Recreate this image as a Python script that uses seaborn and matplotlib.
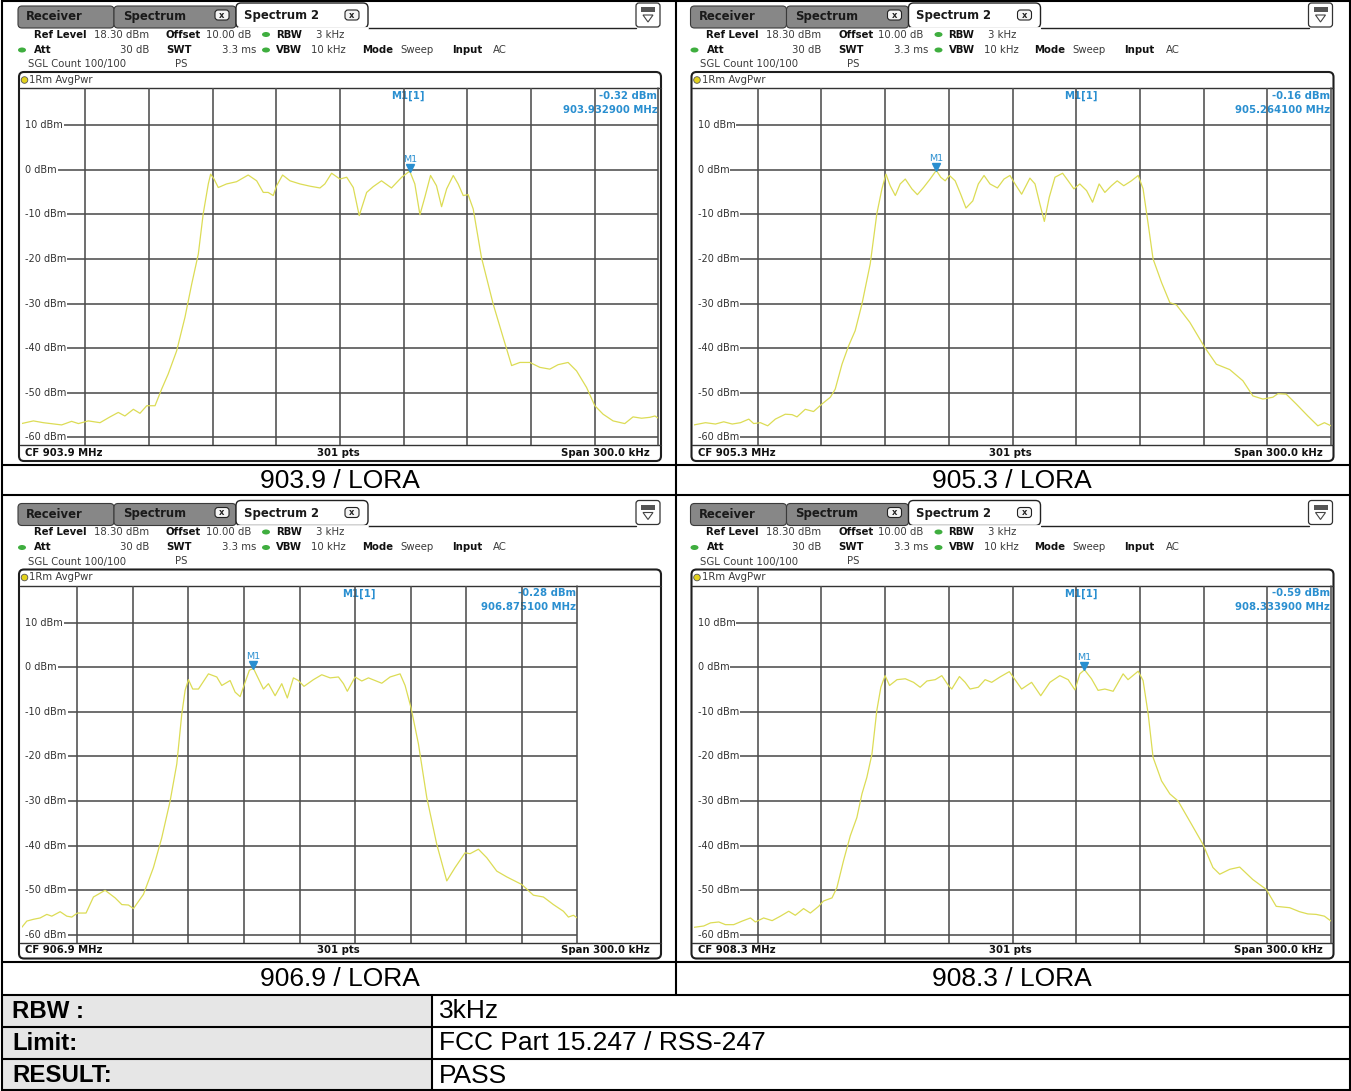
import numpy as np
import pandas as pd
import matplotlib
matplotlib.use("Agg")
import matplotlib.pyplot as plt
import seaborn as sns
from matplotlib.patches import FancyBboxPatch, Rectangle, Circle, Ellipse, Polygon

sns.set_theme(style="white")
plt.rcParams['font.family'] = ['DejaVu Sans']

W, H = 1351, 1091

# ---------------- data ----------------
center_freqs = ["903.9", "905.3", "906.9", "908.3"]
panel_labels = ["903.9 / LORA", "905.3 / LORA", "906.9 / LORA", "908.3 / LORA"]
marker_freq_txt = ["903.932900 MHz", "905.264100 MHz", "906.875100 MHz", "908.333900 MHz"]
marker_level = [-0.32, -0.16, -0.28, -0.59]
marker_offset_khz = [32.9, -35.9, -24.9, 33.9]
ref_level = 18.30
level_ticks = [10, 0, -10, -20, -30, -40, -50, -60]
level_tick_labels = ["10 dBm", "0 dBm", "-10 dBm", "-20 dBm", "-30 dBm", "-40 dBm", "-50 dBm", "-60 dBm"]
freq_grid_khz = [-120, -90, -60, -30, 0, 30, 60, 90, 120]

trace1_khz = [-150, -144.4, -139.7, -131.1, -126.4, -123.2, -118.5, -113.0, -108.3, -104.4, -101.3, -97.3,
              -94.2, -91.0, -87.1, -84.0, -80.9, -76.9, -73.0, -69.8, -66.7, -64.4, -62.0, -60.9, -59.3,
              -57.3, -53.4, -48.7, -43.2, -39.2, -36.1, -33.8, -31.4, -29.8, -27.0, -23.5, -18.8, -14.1,
              -9.4, -7.1, -3.9, 0.0, 3.2, 6.3, 9.1, 12.6, 15.7, 19.6, 24.3, 29.1, 32.9, 35.3, 37.7, 40.0,
              42.7, 45.5, 47.9, 50.3, 53.4, 55.7, 58.1, 60.4, 62.8, 66.7, 72.2, 76.9, 80.9, 84.8, 89.5,
              94.2, 98.9, 102.8, 107.5, 111.5, 116.2, 120.1, 124.0, 128.7, 134.2, 138.1, 142.1, 146.0,
              148.4, 150]
trace1_dbm = [-56.9, -56.3, -56.7, -57.2, -56.4, -56.9, -56.3, -56.7, -55.4, -54.4, -55.2, -53.7,
              -54.6, -52.9, -52.9, -49.2, -45.8, -40.6, -33.1, -25.6, -18.9, -9.9, -3.2, -1.0, -2.1,
              -4.0, -3.2, -2.7, -1.2, -2.5, -5.1, -5.1, -5.8, -3.6, -1.2, -2.5, -3.2, -3.7,
              -4.1, -3.2, -0.8, -2.1, -1.7, -4.0, -10.3, -5.1, -3.8, -2.5, -4.1, -1.7, -0.32, -3.2, -10.1, -6.2,
              -1.3, -3.6, -8.3, -4.3, -1.3, -3.2, -5.8, -5.6, -8.8, -19.7, -30.1, -37.6, -43.9, -43.2, -43.2,
              -44.3, -44.7, -43.7, -43.2, -45.1, -48.8, -52.9, -54.8, -56.3, -56.9, -55.4, -55.7, -55.5,
              -55.2, -55.7]

trace2_khz = [-150, -144.6, -139.9, -136.0, -132.0, -128.1, -124.2, -121.9, -118.7, -115.3, -111.7, -107.0,
              -103.8, -101.5, -97.6, -93.7, -89.7, -85.8, -83.5, -80.3, -77.2, -74.1, -70.9, -67.0, -63.9,
              -61.5, -59.6, -57.6, -55.2, -52.9, -50.5, -47.4, -44.8, -41.9, -38.8, -35.9, -33.8, -31.7,
              -29.7, -27.0, -24.4, -21.9, -18.7, -16.1, -13.4, -10.6, -7.1, -4.0, -1.2, 1.2, 4.3, 8.2, 10.6,
              12.9, 15.0, 17.3, 20.0, 23.6, 26.2, 28.9, 31.7, 34.9, 37.7, 40.8, 43.5, 46.6, 49.3, 52.4, 56.0,
              59.2, 61.5, 63.9, 66.2, 70.2, 74.1, 77.2, 83.5, 90.5, 96.0, 102.3, 108.5, 113.2, 117.9, 122.6,
              125.0, 128.9, 133.6, 139.1, 143.8, 146.9, 150]
trace2_dbm = [-57.2, -56.7, -57.0, -56.5, -57.0, -56.7, -55.9, -56.9, -56.7, -57.4, -55.9, -54.8,
              -54.9, -55.4, -53.7, -54.2, -52.5, -51.0, -49.2, -43.6, -39.5, -36.1, -30.1, -21.1, -9.9,
              -4.3, -1.0, -3.6, -5.8, -3.2, -2.1, -4.3, -5.6, -4.0, -2.1, -0.16, -1.7, -2.5,
              -1.3, -2.5, -5.5, -8.6, -7.0, -3.2, -1.3, -3.2, -4.1, -2.1, -1.3, -3.2, -5.5, -1.9, -3.2,
              -7.7, -11.6, -6.2, -1.7, -0.8, -2.5, -4.3, -3.2, -4.7, -7.3, -3.2, -5.1, -3.6, -2.5, -3.6, -2.5,
              -1.3, -4.3, -12.2, -20.0, -25.3, -29.8, -30.3, -34.2, -39.8, -43.6, -44.8, -47.3, -50.7, -51.4, -51.0,
              -50.2, -50.3, -52.5, -55.2, -57.4, -56.7, -57.4]

trace3_khz = [-150, -147.3, -143.7, -140.1, -136.5, -133.8, -129.3, -125.7, -123.0, -120.0, -115.3, -111.3,
              -105.0, -99.6, -96.0, -92.4, -89.7, -84.3, -78.9, -74.4, -69.9, -66.3, -63.6, -61.8, -60.0,
              -57.7, -54.6, -49.2, -44.7, -42.0, -37.5, -34.8, -32.1, -30.0, -27.1, -24.9, -22.2, -19.5,
              -16.8, -13.2, -9.6, -6.6, -3.3, -0.6, 2.4, 7.5, 12.0, 16.5, 21.0, 23.7, 25.8, 30.0, 33.6,
              37.2, 44.4, 48.9, 54.3, 57.0, 60.2, 64.2, 68.7, 74.1, 79.5, 84.0, 89.4, 92.1, 96.6, 101.1,
              106.5, 111.9, 120.0, 126.3, 131.7, 137.1, 142.5, 145.2, 147.9, 150]
trace3_dbm = [-58.3, -56.9, -56.5, -56.2, -55.4, -55.8, -54.8, -55.8, -56.0, -55.1, -55.1, -51.5,
              -50.0, -51.7, -53.2, -53.3, -54.1, -50.9, -44.9, -38.2, -30.0, -21.7, -10.5, -5.2, -2.8,
              -4.9, -4.9, -1.5, -2.2, -4.1, -3.0, -5.6, -6.6, -4.1, -0.7, -0.28, -2.6, -4.9,
              -3.7, -6.4, -3.7, -6.9, -2.4, -3.0, -4.3, -2.8, -1.7, -2.4, -2.2, -3.7, -5.4, -2.2, -3.1,
              -2.4, -3.6, -2.2, -1.5, -4.1, -9.1, -17.2, -29.2, -39.7, -47.9, -44.9, -41.6, -41.8, -40.8, -42.7,
              -45.7, -47.0, -48.7, -51.1, -51.5, -53.2, -54.7, -56.0, -55.6, -56.2]

trace4_khz = [-150, -145.4, -142.2, -138.3, -135.2, -131.3, -127.3, -123.4, -121.1, -117.2, -113.2, -109.3,
              -105.4, -102.3, -98.4, -95.2, -91.3, -89.0, -85.0, -82.7, -79.6, -76.4, -73.3, -70.9, -68.6,
              -66.2, -63.9, -62.0, -60.0, -57.9, -54.4, -50.5, -46.6, -43.5, -40.3, -36.4, -33.3, -30.2,
              -28.6, -25.0, -22.3, -20.0, -16.1, -12.9, -9.8, -5.9, -1.5, 1.2, 4.3, 9.0, 13.3, 17.6, 22.3,
              26.2, 29.4, 31.7, 33.9, 37.2, 40.3, 43.5, 47.4, 52.1, 54.4, 59.2, 61.5, 63.9, 66.2, 70.2, 74.1,
              78.0, 84.3, 89.7, 94.4, 97.6, 102.3, 107.0, 113.2, 119.5, 124.2, 130.5, 135.2, 139.1, 143.0,
              146.9, 150]
trace4_dbm = [-58.3, -58.0, -57.3, -57.1, -57.7, -57.7, -56.9, -56.2, -57.1, -56.2, -56.8, -55.8,
              -54.7, -55.6, -54.1, -55.1, -53.6, -52.4, -51.7, -49.4, -43.4, -37.8, -33.7, -28.4, -24.7,
              -19.5, -9.7, -4.5, -1.9, -4.1, -2.8, -2.6, -3.4, -4.5, -3.1, -2.8, -1.9, -4.1,
              -4.9, -2.1, -3.4, -4.9, -4.5, -2.8, -3.4, -2.2, -1.0, -2.8, -4.9, -3.4, -6.4, -3.4, -1.9,
              -2.8, -5.1, -1.5, -0.59, -2.6, -5.2, -4.9, -5.4, -1.5, -2.8, -0.9, -3.0, -10.5, -20.2, -25.5, -28.4,
              -30.0, -35.2, -39.7, -44.9, -46.4, -45.3, -44.8, -47.6, -49.8, -53.6, -53.9, -54.8, -55.3, -55.4,
              -55.8, -56.9]

traces_khz = [trace1_khz, trace2_khz, trace3_khz, trace4_khz]
traces_dbm = [trace1_dbm, trace2_dbm, trace3_dbm, trace4_dbm]

table_rows = ["RBW :", "Limit:", "RESULT:"]
table_vals = ["3kHz", "FCC Part 15.247 / RSS-247", "PASS"]

# ---------------- style ----------------
TRACE = "#dcdc55"
GRID = "#4d4d4d"
GLW = 1.15
BLUE = "#2a8fd0"
FS = 7.3

fig = plt.figure(figsize=(W / 100, H / 100), dpi=100)
fig.patch.set_facecolor("white")
bg = fig.add_axes([0, 0, 1, 1])
bg.set_xlim(0, W)
bg.set_ylim(H, 0)
bg.axis("off")

layouts = [
    dict(dx=0, dy=0, plot=(21.5, 88, 658.3, 445)),
    dict(dx=672.5, dy=0, plot=(694, 88, 1331, 445)),
    dict(dx=0, dy=497.5, plot=(21.8, 585.5, 577.3, 942.5)),
    dict(dx=672.5, dy=497.5, plot=(694, 585.5, 1331, 942.5)),
]


def chrome(i, dx, dy, plot):
    X = lambda v: v + dx
    Y = lambda v: v + dy
    gray = "#878787"
    bg.add_patch(FancyBboxPatch((X(18), Y(6)), 96, 22, boxstyle="round,pad=0,rounding_size=4",
                                fc=gray, ec="#3a3a3a", lw=0.8, zorder=2))
    bg.add_patch(FancyBboxPatch((X(114), Y(6)), 122, 22, boxstyle="round,pad=0,rounding_size=4",
                                fc=gray, ec="#3a3a3a", lw=0.8, zorder=2))
    bg.add_patch(FancyBboxPatch((X(236), Y(3)), 132, 25, boxstyle="round,pad=0,rounding_size=5",
                                fc="white", ec="#222222", lw=1.0, zorder=3))
    bg.plot([X(237.5), X(366.5)], [Y(28), Y(28)], color="white", lw=2, zorder=3.5)
    bg.plot([X(368), X(636)], [Y(28), Y(28)], color="#222222", lw=1.0, zorder=3)
    bg.text(X(26), Y(16.5), "Receiver", fontsize=8.4, fontweight="bold", color="#1a1a1a", va="center", zorder=4)
    bg.text(X(123), Y(16.5), "Spectrum", fontsize=8.4, fontweight="bold", color="#1a1a1a", va="center", zorder=4)
    bg.text(X(244), Y(15.5), "Spectrum 2", fontsize=8.4, fontweight="bold", color="#1a1a1a", va="center", zorder=4)
    for cx in (222, 352):
        bg.add_patch(FancyBboxPatch((X(cx - 7), Y(10)), 14, 10, boxstyle="round,pad=0,rounding_size=3",
                                    fc="#f4f4f4", ec="#222222", lw=0.8, zorder=4))
        bg.text(X(cx), Y(15), "x", fontsize=6, fontweight="bold", ha="center", va="center", color="#222", zorder=5)
    bg.add_patch(FancyBboxPatch((X(636), Y(3)), 24, 24, boxstyle="round,pad=0,rounding_size=3",
                                fc="white", ec="#333333", lw=0.9, zorder=3))
    bg.add_patch(Rectangle((X(641), Y(7)), 14, 5, fc="#555555", ec="none", zorder=4))
    bg.add_patch(Polygon([(X(643), Y(15)), (X(653), Y(15)), (X(648), Y(22))], closed=True,
                         fc="white", ec="#444444", lw=0.8, zorder=4))

    def t(x, y, s, bold=False, ha="left"):
        bg.text(X(x), Y(y), s, fontsize=FS, fontweight="bold" if bold else "normal",
                color="#111111" if bold else "#3a3a3a", va="center", ha=ha, zorder=4)
    t(34, 34.5, "Ref Level", True); t(94, 34.5, "18.30 dBm")
    t(166, 34.5, "Offset", True); t(206, 34.5, "10.00 dB")
    t(276, 34.5, "RBW", True); t(316, 34.5, "3 kHz")
    t(34, 50, "Att", True); t(149, 50, "30 dB", ha="right")
    t(166, 50, "SWT", True); t(256, 50, "3.3 ms", ha="right")
    t(276, 50, "VBW", True); t(311, 50, "10 kHz")
    t(362, 50, "Mode", True); t(400, 50, "Sweep")
    t(452, 50, "Input", True); t(493, 50, "AC")
    t(28, 64, "SGL Count 100/100"); t(175, 64, "PS")
    for gx, gy in ((266, 34.5), (22, 50), (266, 50)):
        bg.add_patch(Ellipse((X(gx), Y(gy)), 8, 5, fc="#3fae3f", ec="none", zorder=4))
    bg.add_patch(FancyBboxPatch((X(19), Y(72)), 642, 389, boxstyle="round,pad=0,rounding_size=5",
                                fc="white", ec="#1e1e1e", lw=1.5, zorder=1))
    bg.add_patch(Circle((X(24.5), Y(80)), 3.3, fc="#e3d21c", ec="#555", lw=0.6, zorder=4))
    t(29, 80, "1Rm AvgPwr")
    bg.plot([X(19.5), X(660.5)], [Y(88), Y(88)], color="#333333", lw=1.0, zorder=2)
    bg.plot([X(19.5), X(660.5)], [Y(445), Y(445)], color="#333333", lw=1.0, zorder=2)
    t(25, 452.5, "CF " + center_freqs[i] + " MHz", True)
    t(338, 452.5, "301 pts", True, ha="center")
    t(650, 452.5, "Span 300.0 kHz", True, ha="right")
    x0, y0, x1, y1 = plot
    bg.text(x0 + 0.607 * (x1 - x0), Y(96), "M1[1]", fontsize=FS, fontweight="bold", color=BLUE,
            ha="center", va="center", zorder=4)
    bg.text(x1 - 1, Y(96), f"{marker_level[i]:.2f} dBm", fontsize=FS, fontweight="bold", color=BLUE,
            ha="right", va="center", zorder=4)
    bg.text(x1 - 1, Y(110), marker_freq_txt[i], fontsize=FS, fontweight="bold", color=BLUE,
            ha="right", va="center", zorder=4)


y_bottom = ref_level - 80
pending = []
for i, lay in enumerate(layouts):
    chrome(i, lay["dx"], lay["dy"], lay["plot"])
    x0, y0, x1, y1 = lay["plot"]
    ax = fig.add_axes([x0 / W, 1 - y1 / H, (x1 - x0) / W, (y1 - y0) / H])
    ax.patch.set_alpha(0)
    df = pd.DataFrame({"offset_khz": traces_khz[i], "level_dbm": traces_dbm[i]})
    sns.lineplot(data=df, x="offset_khz", y="level_dbm", ax=ax, color=TRACE, lw=0.9,
                 estimator=None, sort=False, legend=False, zorder=5)
    ax.set_xlim(-150, 150)
    ax.set_ylim(y_bottom, ref_level)
    ax.axis("off")
    for f in freq_grid_khz:
        ax.axvline(f, color=GRID, lw=GLW, zorder=1)
    ax.axvline(150, color=GRID, lw=GLW, zorder=1, clip_on=False)
    kpp = 300.0 / (x1 - x0)
    for lv, lab in zip(level_ticks, level_tick_labels):
        txt = ax.text(-150 + 3.5 * kpp, lv, lab, fontsize=7, color="#333333", va="center", ha="left", zorder=2)
        pending.append((ax, txt, lv, kpp))
    mf, ml = marker_offset_khz[i], marker_level[i]
    ax.plot([mf], [ml + 0.8], marker="v", ms=5.5, color=BLUE, ls="none", zorder=6, clip_on=False)
    ax.text(mf, ml + 2.7, "M1", fontsize=6.8, color=BLUE, ha="center", va="center", zorder=6)

# horizontal grid lines start right after their labels
fig.canvas.draw()
rend = fig.canvas.get_renderer()
for ax, txt, lv, kpp in pending:
    bb = txt.get_window_extent(renderer=rend)
    xr = ax.transData.inverted().transform((bb.x1, 0))[0]
    ax.hlines(lv, xr + 1.0 * kpp, 150, color=GRID, lw=GLW, zorder=1)

# ---------------- table ----------------
LW = 1.5
bg.add_patch(Rectangle((3, 995), 429, 95, fc="#e6e6e6", ec="none", zorder=0))
for yy in (1, 464.5, 495, 962, 995, 1027, 1059, 1090):
    bg.plot([1.5, 1349.5], [yy, yy], color="black", lw=LW, zorder=6)
bg.plot([1.5, 1.5], [0, H], color="black", lw=LW, zorder=6)
bg.plot([1349.5, 1349.5], [0, H], color="black", lw=LW, zorder=6)
bg.plot([676, 676], [0, 995], color="black", lw=LW, zorder=6)
bg.plot([432, 432], [995, H], color="black", lw=LW, zorder=6)

label_pos = [(340, 481), (1012, 481), (340, 979), (1012, 979)]
for (lx, ly), lab in zip(label_pos, panel_labels):
    bg.text(lx, ly, lab, fontsize=19, family="Liberation Sans", ha="center", va="center", color="black")
for k, (r, v) in enumerate(zip(table_rows, table_vals)):
    yc = 1011 + 32.3 * k
    bg.text(12, yc, r, fontsize=17.3, fontweight="bold", family="Liberation Sans", va="center", color="black")
    bg.text(439, yc, v, fontsize=19, family="Liberation Sans", va="center", color="black")

fig.savefig("out.png", dpi=100, facecolor="white")
